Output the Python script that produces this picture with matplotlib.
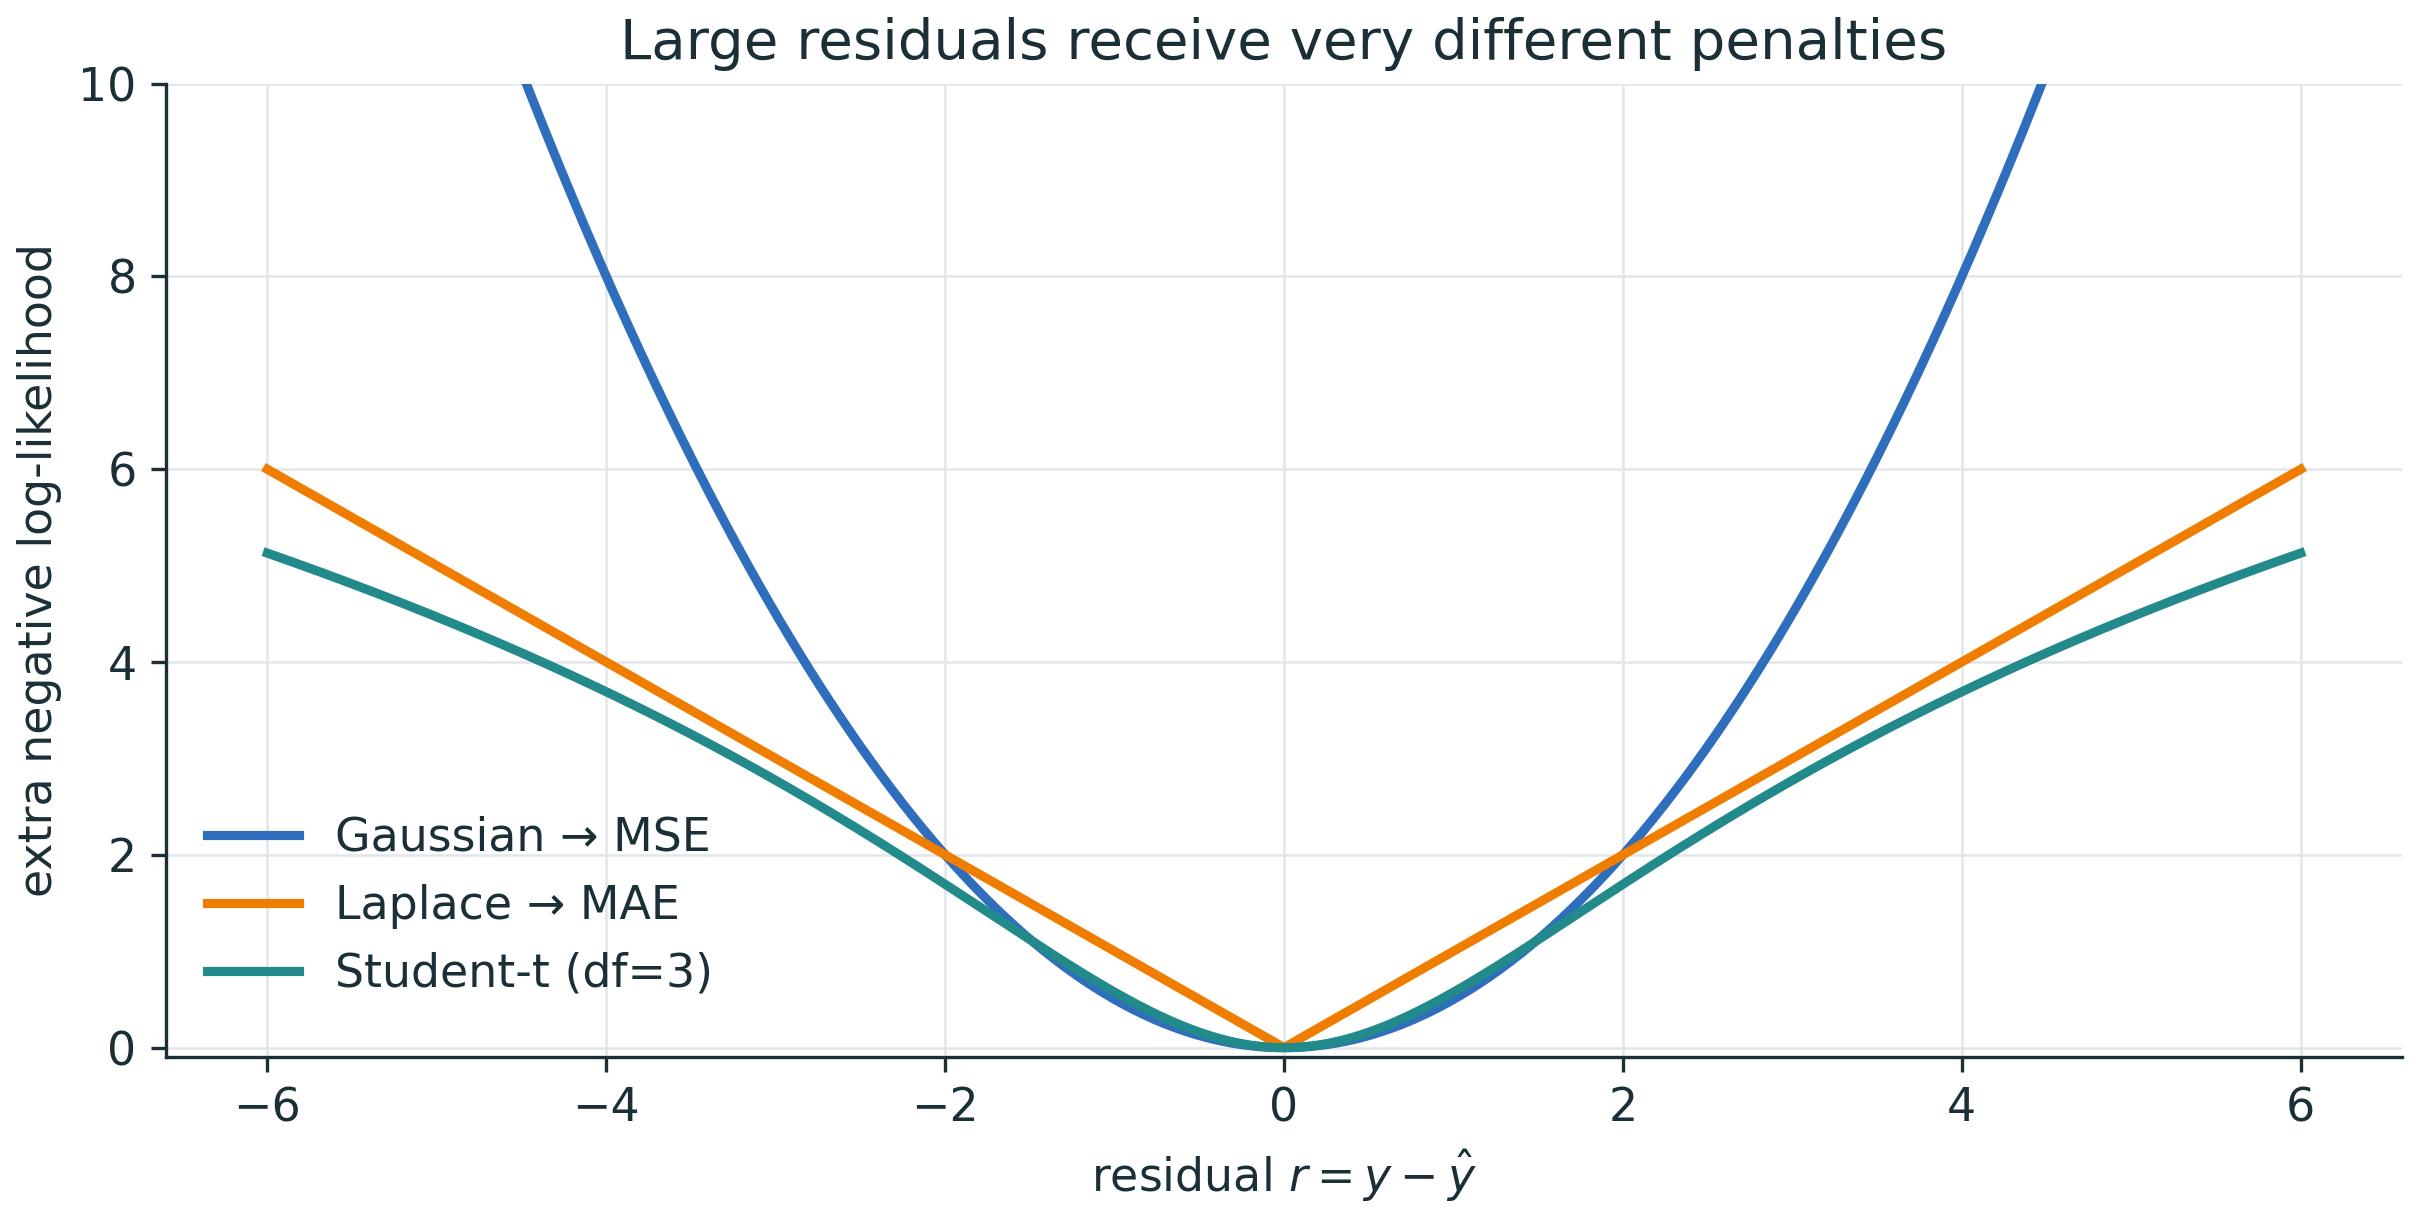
import numpy as np
import matplotlib.pyplot as plt

# loss curves (extra negative log-likelihood relative to r=0)
r = np.linspace(-6, 6, 601)
df_t = 3
gauss = r**2 / 2
laplace = np.abs(r)
student = (df_t + 1) / 2 * np.log1p(r**2 / df_t)

labels = ['Gaussian → MSE', 'Laplace → MAE', 'Student-t (df=3)']
colors = ['#2f6dbd', '#ef7d00', '#238a8b']
ink = '#1b2f36'

plt.rcParams['text.color'] = ink
plt.rcParams['axes.labelcolor'] = ink
plt.rcParams['xtick.color'] = ink
plt.rcParams['ytick.color'] = ink

fig, ax = plt.subplots(figsize=(2419/300, 1221/300), dpi=300)
for y, lab, c in zip([gauss, laplace, student], labels, colors):
    ax.plot(r, y, color=c, lw=2.2, label=lab)

ax.set_xlim(-6.6, 6.6)
ax.set_ylim(-0.1, 10)
ax.set_xticks([-6, -4, -2, 0, 2, 4, 6])
ax.set_yticks([0, 2, 4, 6, 8, 10])
ax.grid(True, color='#e3e6e8', lw=0.6)
ax.set_axisbelow(True)
for s in ['top', 'right']:
    ax.spines[s].set_visible(False)
for s in ['left', 'bottom']:
    ax.spines[s].set_color(ink)
    ax.spines[s].set_linewidth(0.8)
ax.tick_params(labelsize=11, width=0.8)
ax.set_title('Large residuals receive very different penalties', fontsize=13.5)
ax.set_xlabel(r'residual $r = y - \hat{y}$', fontsize=11)
ax.set_ylabel('extra negative log-likelihood', fontsize=11)
ax.legend(loc='lower left', frameon=False, fontsize=11, bbox_to_anchor=(0.0, 0.02))
fig.tight_layout(pad=0.4)
fig.savefig('out.png', dpi=300)
